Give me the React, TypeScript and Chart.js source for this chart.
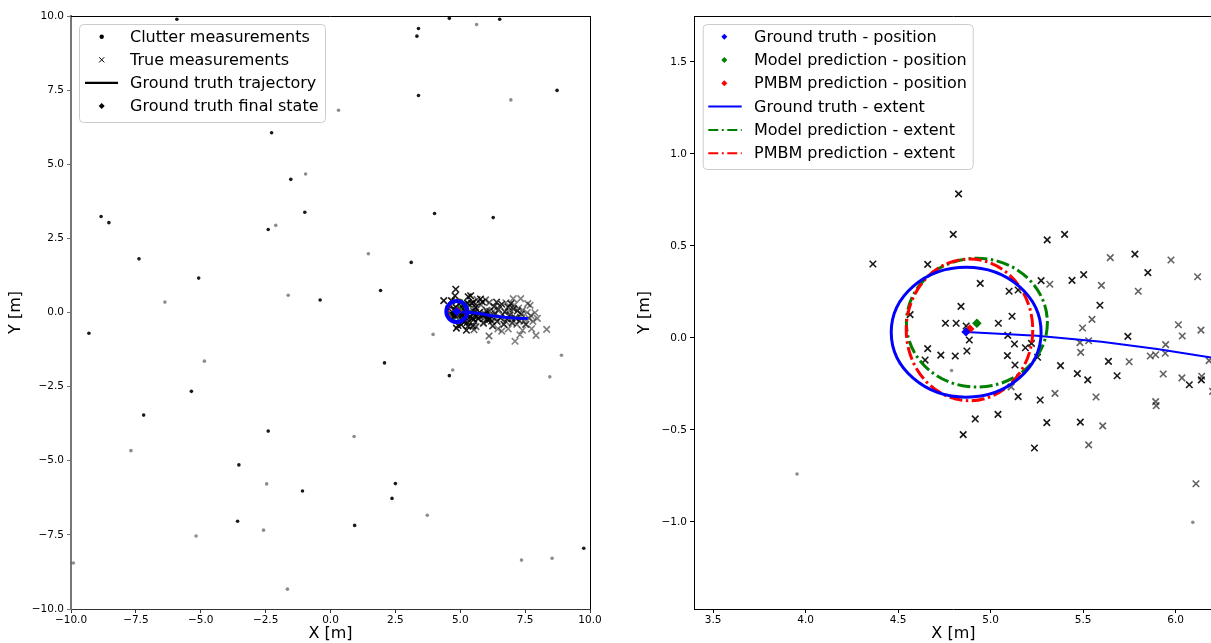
import React, { useEffect, useRef } from "react";
import { Chart, registerables } from "chart.js";

Chart.register(...registerables);

type Pt = [number, number];

// ---------------- data ----------------
const clutterRecent: Pt[] = [
  [-5.92, 9.89], [3.39, 9.58], [3.33, 9.32], [4.58, 9.92], [6.52, 9.89], [3.39, 7.32],
  [8.73, 7.49], [-2.27, 6.06], [-8.84, 3.24], [-8.54, 3.03], [-0.99, 3.38], [4.01, 3.34],
  [6.27, 3.2], [-2.4, 2.8], [-7.38, 1.81], [3.11, 1.69], [-5.08, 1.16], [1.93, 0.74],
  [-0.4, 0.42], [-9.31, -0.7], [2.08, -1.7], [4.58, -2.13], [-5.36, -2.66], [-7.2, -3.46],
  [-2.4, -4.0], [-3.53, -5.14], [2.5, -5.77], [2.37, -6.27], [-3.58, -7.04], [0.93, -7.18],
  [9.76, -7.95], [-1.53, 4.49], [-1.08, -6.02],
];
const clutterOlder: Pt[] = [
  [5.63, 9.71], [6.95, 7.17], [0.31, 6.82], [-0.96, 4.67], [-2.11, 2.94], [1.46, 1.98],
  [-1.63, 0.58], [-6.38, 0.35], [3.954, -0.739], [-4.86, -1.64], [4.71, -1.94], [8.9, -1.44],
  [8.45, -2.17], [6.093, -1.002], [0.91, -4.18], [-7.69, -4.66], [-2.46, -5.78], [3.73, -6.84],
  [-2.58, -7.34], [-5.18, -7.54], [7.36, -8.35], [8.54, -8.29], [-9.91, -8.45], [-1.66, -9.33],
  [4.789, -0.177],
];
const measRecent: Pt[] = [
  [4.827, 0.783], [4.798, 0.563], [5.306, 0.533], [5.4, 0.563], [4.364, 0.402], [4.66, 0.4],
  [5.85, 0.355], [4.944, 0.297], [5.273, 0.312], [5.44, 0.313], [5.503, 0.344], [5.1, 0.254],
  [5.149, 0.261], [5.591, 0.178], [4.84, 0.172], [4.565, 0.127], [5.116, 0.118], [4.756, 0.08],
  [4.814, 0.08], [5.042, 0.08], [4.868, 0.065], [5.742, 0.009], [5.093, 0.014], [4.885, -0.011],
  [5.129, -0.033], [5.188, -0.053], [5.221, -0.029], [4.66, -0.058], [4.731, -0.093], [4.809, -0.098],
  [4.872, -0.071], [5.091, -0.096], [4.646, -0.12], [5.254, -0.105], [5.132, -0.147], [5.378, -0.15],
  [5.637, -0.127], [6.074, -0.254], [6.139, -0.228], [5.469, -0.194], [5.525, -0.228], [5.684, -0.205],
  [5.149, -0.319], [5.268, -0.337], [4.917, -0.44], [5.04, -0.415], [5.304, -0.46], [5.485, -0.457],
  [4.852, -0.525], [5.237, -0.598], [5.78, 0.456],
];
const measOlder: Pt[] = [
  [5.647, 0.437], [5.975, 0.424], [6.119, 0.333], [5.32, 0.292], [5.599, 0.286], [5.798, 0.254],
  [5.548, 0.101], [5.497, 0.054], [6.015, 0.072], [6.036, 0.011], [6.137, 0.043], [5.483, -0.025],
  [5.53, -0.015], [5.487, -0.078], [5.946, -0.036], [5.944, -0.083], [5.863, -0.098], [5.892, -0.091],
  [6.181, -0.123], [5.749, -0.129], [5.933, -0.196], [6.034, -0.217], [6.141, -0.208], [5.111, -0.266],
  [5.348, -0.301], [5.57, -0.321], [5.892, -0.346], [5.895, -0.368], [5.606, -0.478], [5.53, -0.581],
  [6.11, -0.792], [6.2, -0.29],
];
const measFarDark: Pt[] = [
  [6.3, 0.2], [6.35, -0.05], [6.42, -0.3], [6.48, 0.1], [6.55, -0.18], [6.6, 0.28], [6.68, -0.4],
  [6.72, 0.02], [6.8, -0.22], [6.85, 0.18], [6.92, -0.08], [7.0, -0.35], [7.05, 0.12], [7.12, -0.18],
  [7.2, 0.05], [7.28, -0.28], [6.4, 0.35], [6.95, 0.3], [7.35, -0.05], [6.25, -0.45],
];
const measFarLight: Pt[] = [
  [6.28, 0.05], [6.38, -0.2], [6.52, 0.22], [6.62, -0.08], [6.75, -0.3], [6.88, 0.05], [6.98, -0.2],
  [7.08, 0.25], [7.18, -0.4], [7.25, 0.15], [7.32, -0.15], [7.4, 0.08], [7.45, -0.3], [7.52, -0.4],
  [7.58, 0.0], [7.65, -0.2], [7.72, -0.1], [7.8, -0.3], [7.88, -0.01], [7.92, -0.77], [8.33, -0.57],
  [7.11, -0.97], [7.04, 0.47], [7.33, 0.47], [6.76, 0.33], [7.69, 0.24], [7.53, -0.4], [6.6, -0.63],
  [7.3, -0.75], [6.85, -0.55], [7.97, -0.2], [7.6, 0.3], [7.4, -0.6], [6.45, -0.55], [7.75, -0.55],
];
const trajectory: Pt[] = [
  [4.867, 0.033], [5.25, 0.012], [5.6, -0.02], [5.9, -0.06], [6.2, -0.107], [6.7, -0.16], [7.2, -0.19], [7.6, -0.2],
];
const gtPosition: Pt = [4.867, 0.033];
const modelPosition: Pt = [4.926, 0.08];
const pmbmPosition: Pt = [4.888, 0.049];

const extentLabels = ["Ground truth - extent", "Model prediction - extent", "PMBM prediction - extent"];
const extentCenterX = [4.868, 4.926, 4.886];
const extentCenterY = [0.031, 0.083, 0.044];
const extentSemiX = [0.405, 0.381, 0.342];
const extentSemiY = [0.353, 0.35, 0.385];
const extentColors = ["#0000ff", "#008000", "#ff0000"];
const extentDashed = [false, true, true];
const extentDrawOrder = [1, 2, 0];

const leftTicks = [-10, -7.5, -5, -2.5, 0, 2.5, 5, 7.5, 10];
const rightXTicks = [3.5, 4.0, 4.5, 5.0, 5.5, 6.0];
const rightYTicks = [-1.0, -0.5, 0.0, 0.5, 1.0, 1.5];

const leftLegendLabels = ["Clutter measurements", "True measurements", "Ground truth trajectory", "Ground truth final state"];
const rightLegendLabels = [
  "Ground truth - position", "Model prediction - position", "PMBM prediction - position",
  "Ground truth - extent", "Model prediction - extent", "PMBM prediction - extent",
];

// ---------------- helpers ----------------
const FAMILY = "'DejaVu Sans', 'Liberation Sans', sans-serif";
const toXY = (p: Pt) => ({ x: p[0], y: p[1] });
const fmt = (v: any) => Number(v).toFixed(1).replace("-", "\u2212");

function drawMarker(ctx: CanvasRenderingContext2D, kind: string, x: number, y: number, s: number, color: string) {
  ctx.save();
  ctx.fillStyle = color;
  ctx.strokeStyle = color;
  if (kind === "dot") {
    ctx.beginPath();
    ctx.arc(x, y, s, 0, Math.PI * 2);
    ctx.fill();
  } else if (kind === "cross") {
    ctx.lineWidth = 1;
    ctx.beginPath();
    ctx.moveTo(x - s, y - s); ctx.lineTo(x + s, y + s);
    ctx.moveTo(x - s, y + s); ctx.lineTo(x + s, y - s);
    ctx.stroke();
  } else if (kind === "diamond") {
    ctx.beginPath();
    ctx.moveTo(x - s, y); ctx.lineTo(x, y - s); ctx.lineTo(x + s, y); ctx.lineTo(x, y + s);
    ctx.closePath();
    ctx.fill();
  }
  ctx.restore();
}

type LegendItem = { label: string; kind: string; color: string; dash?: number[]; size: number };

function makeLegendPlugin(box: { x: number; y: number; w: number; h: number }, items: LegendItem[], row0: number, rowGap: number, markerX: number, lineX0: number, lineX1: number, textX: number) {
  return {
    id: "boxLegend",
    afterDraw(chart: any) {
      const ctx: CanvasRenderingContext2D = chart.ctx;
      ctx.save();
      ctx.beginPath();
      (ctx as any).roundRect(box.x + 0.5, box.y + 0.5, box.w, box.h, 4);
      ctx.fillStyle = "rgba(255,255,255,0.8)";
      ctx.fill();
      ctx.strokeStyle = "#cccccc";
      ctx.lineWidth = 1;
      ctx.stroke();
      items.forEach((it, i) => {
        const y = row0 + i * rowGap;
        if (it.kind === "line") {
          ctx.save();
          ctx.strokeStyle = it.color;
          ctx.lineWidth = it.size;
          ctx.setLineDash(it.dash || []);
          ctx.beginPath();
          ctx.moveTo(lineX0, y);
          ctx.lineTo(lineX1, y);
          ctx.stroke();
          ctx.restore();
        } else {
          drawMarker(ctx, it.kind, markerX, y, it.size, it.color);
        }
        ctx.fillStyle = "#000";
        ctx.font = `16px ${FAMILY}`;
        ctx.textBaseline = "middle";
        ctx.textAlign = "left";
        ctx.fillText(it.label, textX, y + 1);
      });
      ctx.restore();
    },
  };
}

function makeExtentPlugin(widths: number[], dash: number[]) {
  return {
    id: "extents",
    afterDatasetsDraw(chart: any) {
      const { ctx, chartArea: a, scales } = chart;
      const xs = scales.x, ys = scales.y;
      ctx.save();
      ctx.beginPath();
      ctx.rect(a.left, a.top, a.right - a.left, a.bottom - a.top);
      ctx.clip();
      for (const i of extentDrawOrder) {
        const cx = xs.getPixelForValue(extentCenterX[i]);
        const cy = ys.getPixelForValue(extentCenterY[i]);
        const rx = Math.abs(xs.getPixelForValue(extentCenterX[i] + extentSemiX[i]) - cx);
        const ry = Math.abs(ys.getPixelForValue(extentCenterY[i] + extentSemiY[i]) - cy);
        ctx.beginPath();
        ctx.setLineDash(extentDashed[i] ? dash : []);
        ctx.strokeStyle = extentColors[i];
        ctx.lineWidth = widths[i];
        ctx.ellipse(cx, cy, rx, ry, 0, 0, Math.PI * 2);
        ctx.stroke();
      }
      ctx.restore();
    },
  };
}

function makeFramePlugin(right: boolean) {
  return {
    id: "frame",
    afterDraw(chart: any) {
      const { ctx, chartArea: a } = chart;
      ctx.save();
      ctx.strokeStyle = "#000";
      ctx.lineWidth = 1;
      ctx.beginPath();
      ctx.moveTo(a.left, Math.round(a.top) + 0.5);
      ctx.lineTo(a.right + 0.5, Math.round(a.top) + 0.5);
      if (right) {
        ctx.moveTo(Math.round(a.right) + 0.5, a.top);
        ctx.lineTo(Math.round(a.right) + 0.5, a.bottom);
      }
      ctx.stroke();
      ctx.restore();
    },
  };
}

function axis(opts: {
  min: number; max: number; ticks: number[]; title: string; horizontal: boolean; size: number;
  titlePad: any; borderColor?: string; borderWidth?: number;
}) {
  return {
    type: "linear",
    position: opts.horizontal ? "bottom" : "left",
    min: opts.min,
    max: opts.max,
    afterBuildTicks: (a: any) => { a.ticks = opts.ticks.map((v) => ({ value: v })); },
    afterFit: (a: any) => { if (opts.horizontal) a.height = opts.size; else a.width = opts.size; },
    ticks: {
      callback: fmt,
      font: { size: 10.5, family: FAMILY },
      color: "#000",
      padding: opts.horizontal ? 1 : 3,
      maxRotation: 0,
      autoSkip: false,
    },
    grid: { display: true, drawOnChartArea: false, drawTicks: true, tickLength: 4, tickColor: opts.borderColor || "#000", tickWidth: 1 },
    border: { display: true, color: opts.borderColor || "#000", width: opts.borderWidth || 1 },
    title: { display: true, text: opts.title, font: { size: 16, family: FAMILY }, color: "#000", padding: opts.titlePad },
  };
}

function commonDatasets(trajWidth: number) {
  return [
    { label: "Ground truth - position", data: [toXY(gtPosition)], pointStyle: "rectRot", pointRadius: 4.6, backgroundColor: "#0000ff", borderColor: "#0000ff", borderWidth: 0, order: 0 },
    { label: "PMBM prediction - position", data: [toXY(pmbmPosition)], pointStyle: "rectRot", pointRadius: 4.6, backgroundColor: "#ff0000", borderColor: "#ff0000", borderWidth: 0, order: 0 },
    { label: "Model prediction - position", data: [toXY(modelPosition)], pointStyle: "rectRot", pointRadius: 4.8, backgroundColor: "#008000", borderColor: "#008000", borderWidth: 0, order: 0 },
    { label: "Ground truth trajectory", data: trajectory.map(toXY), showLine: true, borderColor: "#0000ff", borderWidth: trajWidth, pointRadius: 0, fill: false, tension: 0, order: 1 },
    { label: "True measurements", data: measRecent.map(toXY), pointStyle: "crossRot", pointRadius: 4.6, borderWidth: 1.6, borderColor: "rgba(0,0,0,0.9)", backgroundColor: "rgba(0,0,0,0)", order: 2 },
    { label: "True measurements (older)", data: measOlder.map(toXY), pointStyle: "crossRot", pointRadius: 4.6, borderWidth: 1.6, borderColor: "rgba(0,0,0,0.62)", backgroundColor: "rgba(0,0,0,0)", order: 3 },
    { label: "True measurements (trail)", data: measFarDark.map(toXY), pointStyle: "crossRot", pointRadius: 4.6, borderWidth: 1.6, borderColor: "rgba(0,0,0,0.8)", backgroundColor: "rgba(0,0,0,0)", order: 4 },
    { label: "True measurements (old trail)", data: measFarLight.map(toXY), pointStyle: "crossRot", pointRadius: 4.6, borderWidth: 1.6, borderColor: "rgba(0,0,0,0.5)", backgroundColor: "rgba(0,0,0,0)", order: 5 },
    { label: "Clutter measurements", data: clutterRecent.map(toXY), pointStyle: "circle", pointRadius: 1.8, borderWidth: 0, backgroundColor: "rgba(0,0,0,0.9)", order: 6 },
    { label: "Clutter measurements (older)", data: clutterOlder.map(toXY), pointStyle: "circle", pointRadius: 1.8, borderWidth: 0, backgroundColor: "rgba(0,0,0,0.45)", order: 7 },
  ];
}

function buildLeft(): any {
  const legendItems: LegendItem[] = [
    { label: leftLegendLabels[0], kind: "dot", color: "#000", size: 2.2 },
    { label: leftLegendLabels[1], kind: "cross", color: "#000", size: 2.6 },
    { label: leftLegendLabels[2], kind: "line", color: "#000", size: 2.2 },
    { label: leftLegendLabels[3], kind: "diamond", color: "#000", size: 3 },
  ];
  return {
    type: "scatter",
    data: { datasets: commonDatasets(3) },
    options: {
      responsive: false,
      animation: false,
      events: [],
      layout: { padding: { left: 0, top: 16, right: 30, bottom: 0 } },
      plugins: { legend: { display: false }, tooltip: { enabled: false } },
      scales: {
        x: axis({ min: -10, max: 10, ticks: leftTicks, title: "X [m]", horizontal: true, size: 34, titlePad: { top: 0, bottom: 0 }, borderColor: "#333" }),
        y: axis({ min: -10, max: 10, ticks: leftTicks, title: "Y [m]", horizontal: false, size: 71, titlePad: { top: 6, bottom: 0 }, borderColor: "#777", borderWidth: 2 }),
      },
    },
    plugins: [
      makeExtentPlugin([4, 2.2, 2.2], [6, 2, 1.5, 2]),
      makeFramePlugin(true),
      makeLegendPlugin({ x: 79, y: 24, w: 246, h: 98 }, legendItems, 36.7, 23.1, 101.7, 85, 118, 130),
    ],
  };
}

function buildRight(): any {
  const legendItems: LegendItem[] = [
    { label: rightLegendLabels[0], kind: "diamond", color: "#0000ff", size: 3 },
    { label: rightLegendLabels[1], kind: "diamond", color: "#008000", size: 3 },
    { label: rightLegendLabels[2], kind: "diamond", color: "#ff0000", size: 3 },
    { label: rightLegendLabels[3], kind: "line", color: extentColors[0], size: 2 },
    { label: rightLegendLabels[4], kind: "line", color: extentColors[1], size: 2, dash: [10, 3.5, 2, 3.5] },
    { label: rightLegendLabels[5], kind: "line", color: extentColors[2], size: 2, dash: [10, 3.5, 2, 3.5] },
  ];
  return {
    type: "scatter",
    data: { datasets: commonDatasets(2) },
    options: {
      responsive: false,
      animation: false,
      events: [],
      layout: { padding: { left: 0, top: 16, right: 0, bottom: 0 } },
      plugins: { legend: { display: false }, tooltip: { enabled: false } },
      scales: {
        x: axis({ min: 3.397, max: 6.201, ticks: rightXTicks, title: "X [m]", horizontal: true, size: 34, titlePad: { top: 0, bottom: 0 } }),
        y: axis({ min: -1.473, max: 1.75, ticks: rightYTicks, title: "Y [m]", horizontal: false, size: 94, titlePad: { top: 35, bottom: 0 } }),
      },
    },
    plugins: [
      makeExtentPlugin([3, 3, 3], [13, 3.5, 2.5, 3.5]),
      makeFramePlugin(false),
      makeLegendPlugin({ x: 102.7, y: 24, w: 270, h: 145 }, legendItems, 36.7, 23.3, 124.3, 108.3, 141.7, 154),
    ],
  };
}

export default function App() {
  const leftRef = useRef<HTMLCanvasElement>(null);
  const rightRef = useRef<HTMLCanvasElement>(null);
  useEffect(() => {
    Chart.defaults.font.family = FAMILY;
    const l = new Chart(leftRef.current as HTMLCanvasElement, buildLeft());
    const r = new Chart(rightRef.current as HTMLCanvasElement, buildRight());
    return () => {
      l.destroy();
      r.destroy();
    };
  }, []);
  return (
    <div style={{ position: "absolute", left: 0, top: 0, width: 1211, height: 643, overflow: "hidden", background: "#fff" }}>
      <canvas ref={leftRef} width={620} height={643} style={{ position: "absolute", left: 0, top: 0 }} />
      <canvas ref={rightRef} width={619} height={643} style={{ position: "absolute", left: 600, top: 0 }} />
    </div>
  );
}
